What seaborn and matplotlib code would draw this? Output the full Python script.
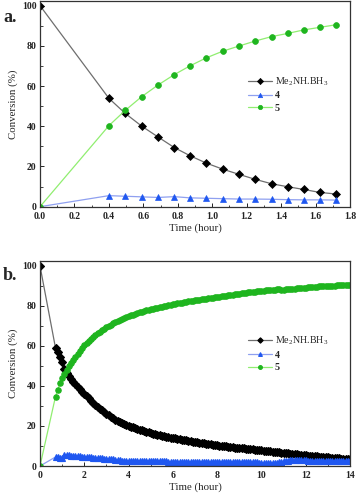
import numpy as np
import matplotlib
matplotlib.use("Agg")
import matplotlib.pyplot as plt
import seaborn as sns
from matplotlib.ticker import MultipleLocator, FormatStrFormatter

sns.set_style("ticks")
plt.rcParams['font.family'] = ['Liberation Serif', 'DejaVu Serif']
plt.rcParams['mathtext.fontset'] = 'custom'
plt.rcParams['mathtext.rm'] = 'Liberation Serif'

# ---------------- Panel a data ----------------
time_a = [0.0, 0.40, 0.495, 0.59, 0.685, 0.78, 0.87, 0.965, 1.06, 1.155,
          1.25, 1.345, 1.44, 1.53, 1.625, 1.72]
amine_a = [100.0, 53.9, 46.4, 40.1, 34.7, 29.4, 25.4, 21.7, 18.7, 16.1,
           13.6, 11.4, 9.9, 8.6, 7.1, 6.3]
prod4_a = [0.0, 5.5, 5.2, 4.9, 4.6, 5.0, 4.4, 4.2, 4.0, 3.8,
           3.8, 3.7, 3.5, 3.4, 3.4, 3.3]
prod5_a = [0.0, 40.3, 47.9, 54.7, 60.5, 65.7, 70.0, 74.0, 77.3, 79.9,
           82.4, 84.6, 86.2, 87.9, 89.2, 90.5]

# ---------------- Panel b data ----------------
time_b = [0.0] + [round(v, 1) for v in np.arange(0.7, 14.05, 0.1)]
amine_b = [100.0,
    59.0, 57.0, 54.5, 52.0, 48.5, 46.5, 45.0, 43.5, 42.0, 40.8,
    39.6, 38.4, 37.2, 36.0, 34.9, 33.8, 32.7, 31.6, 30.5, 29.6,
    28.7, 27.8, 26.9, 26.0, 25.3, 24.6, 23.9, 23.2, 22.5, 22.0,
    21.5, 21.0, 20.5, 20.0, 19.6, 19.3, 18.9, 18.6, 18.2, 17.9,
    17.5, 17.2, 16.8, 16.5, 16.2, 16.0, 15.7, 15.5, 15.2, 15.0,
    14.7, 14.5, 14.2, 14.0, 13.8, 13.6, 13.4, 13.2, 13.0, 12.8,
    12.6, 12.4, 12.2, 12.0, 11.8, 11.7, 11.5, 11.3, 11.2, 11.0,
    10.8, 10.7, 10.5, 10.3, 10.2, 10.0, 9.9, 9.8, 9.6, 9.5,
    9.4, 9.2, 9.1, 9.0, 8.9, 8.8, 8.6, 8.5, 8.4, 8.3,
    8.2, 8.0, 7.9, 7.8, 7.7, 7.5, 7.4, 7.3, 7.2, 7.0,
    6.9, 6.8, 6.6, 6.5, 6.4, 6.3, 6.2, 6.0, 5.9, 5.8,
    5.7, 5.5, 5.4, 5.3, 5.2, 5.1, 5.0, 4.9, 4.8, 4.7,
    4.6, 4.5, 4.4, 4.3, 4.2, 4.1, 4.0, 3.9, 3.8, 3.7,
    3.7, 3.6, 3.5, 3.5]
prod5_b = [0.0,
    34.7, 38.0, 41.3, 44.0, 46.0, 48.0, 49.8, 51.5, 53.0, 54.5,
    56.0, 57.5, 59.0, 60.3, 61.4, 62.5, 63.5, 64.5, 65.5, 66.3,
    67.1, 67.9, 68.7, 69.5, 70.1, 70.7, 71.3, 71.9, 72.5, 73.0,
    73.5, 74.0, 74.5, 75.0, 75.4, 75.7, 76.1, 76.4, 76.8, 77.1,
    77.5, 77.8, 78.1, 78.4, 78.7, 79.0, 79.2, 79.5, 79.7, 80.0,
    80.2, 80.4, 80.7, 80.9, 81.1, 81.3, 81.5, 81.7, 81.9, 82.1,
    82.3, 82.5, 82.6, 82.8, 83.0, 83.2, 83.3, 83.5, 83.7, 83.8,
    84.0, 84.2, 84.3, 84.5, 84.7, 84.8, 85.0, 85.2, 85.3, 85.5,
    85.7, 85.8, 86.0, 86.2, 86.3, 86.5, 86.6, 86.8, 86.9, 87.0,
    87.2, 87.3, 87.4, 87.6, 87.7, 87.8, 87.9, 88.0, 88.1, 88.2,
    88.3, 88.3, 88.2, 88.2, 88.3, 88.4, 88.5, 88.6, 88.7, 88.8,
    88.9, 89.0, 89.1, 89.2, 89.3, 89.4, 89.5, 89.6, 89.7, 89.8,
    89.8, 89.9, 90.0, 90.0, 90.1, 90.2, 90.2, 90.3, 90.4, 90.4,
    90.5, 90.5, 90.6, 90.6]
prod4_b = [0.0,
    4.5, 4.3, 4.1, 3.9, 5.3, 5.4, 5.3, 5.2, 5.1, 5.0,
    4.9, 4.8, 4.7, 4.6, 4.5, 4.4, 4.3, 4.2, 4.1, 4.0,
    3.9, 3.8, 3.7, 3.6, 3.5, 3.4, 3.3, 3.2, 2.9, 2.8,
    2.7, 2.7, 2.6, 2.6, 2.6, 2.5, 2.5, 2.5, 2.5, 2.4,
    2.4, 2.4, 2.4, 2.4, 2.3, 2.3, 2.3, 2.3, 2.3, 2.3,
    2.3, 2.2, 2.2, 2.2, 2.2, 2.2, 2.2, 2.2, 2.1, 2.1,
    2.1, 2.1, 2.1, 2.1, 2.1, 2.1, 2.0, 2.0, 2.0, 2.0,
    2.0, 2.0, 2.0, 2.0, 2.0, 1.9, 1.9, 1.9, 1.9, 1.9,
    1.9, 1.9, 1.9, 1.9, 1.8, 1.8, 1.8, 1.8, 1.8, 1.8,
    1.8, 1.8, 1.7, 1.7, 1.6, 1.5, 1.5, 1.4, 1.4, 1.5,
    1.6, 1.8, 2.1, 2.4, 2.6, 2.7, 2.8, 2.8, 2.8, 2.8,
    2.8, 2.8, 2.8, 2.8, 2.7, 2.7, 2.7, 2.7, 2.6, 2.6,
    2.6, 2.6, 2.5, 2.5, 2.5, 2.5, 2.4, 2.4, 2.4, 2.4,
    2.3, 2.3, 2.3, 2.3]

series_labels = [r"Me$_2$NH.BH$_3$", "4", "5"]

W, H = 357, 497
fig = plt.figure(figsize=(W / 100, H / 100), dpi=100)

def frac(l, t, r, b):
    return [l / W, 1 - b / H, (r - l) / W, (b - t) / H]

ax_a = fig.add_axes(frac(40, 1, 350, 206.7))
ax_b = fig.add_axes(frac(40, 260.7, 350, 466))

styles = [
    dict(marker='D', color='#6e6e6e', markerfacecolor='black', markeredgecolor='black'),
    dict(marker='^', color='#8fa0f0', markerfacecolor='#1f57f0', markeredgecolor='#1f57f0'),
    dict(marker='o', color='#90ee70', markerfacecolor='#1fb51f', markeredgecolor='#1fb51f'),
]

def draw(ax, t, ys, ms, mew):
    for y, lab, st in zip(ys, series_labels, styles):
        sns.lineplot(x=t, y=y, ax=ax, label=lab, linewidth=0.9,
                     markersize=ms, markeredgewidth=mew, estimator=None,
                     sort=False, **st)

draw(ax_a, time_a, [amine_a, prod4_a, prod5_a], 4.2, 0.5)
draw(ax_b, time_b, [amine_b, prod4_b, prod5_b], 3.9, 0.8)

for ax, xmax, xmaj, xmin, ytop, mscale in [(ax_a, 1.8, 0.2, 0.1, 102.3, 0.75),
                                            (ax_b, 14, 2, 1, 102.6, 0.7)]:
    ax.set_xlim(0, xmax)
    ax.set_ylim(0, ytop)
    ax.xaxis.set_major_locator(MultipleLocator(xmaj))
    ax.xaxis.set_minor_locator(MultipleLocator(xmin))
    ax.yaxis.set_major_locator(MultipleLocator(20))
    ax.yaxis.set_minor_locator(MultipleLocator(10))
    if ax is ax_a:
        ax.xaxis.set_major_formatter(FormatStrFormatter('%.1f'))
    ax.tick_params(which='both', direction='in', top=False, right=False,
                   labelsize=7, colors='#222222')
    ax.tick_params(axis='x', pad=3.5)
    ax.tick_params(axis='y', pad=2.5)
    ax.tick_params(which='major', length=3, width=0.7)
    ax.tick_params(which='minor', length=1.8, width=0.6)
    for lab in ax.get_xticklabels() + ax.get_yticklabels():
        lab.set_fontweight('bold')
    for s in ax.spines.values():
        s.set_color('#333333')
        s.set_linewidth(0.9)
    ax.set_xlabel("Time (hour)", fontsize=7.8, labelpad=2)
    ax.set_ylabel("Conversion (%)", fontsize=7.8, labelpad=3)
    leg = ax.legend(loc='center left', bbox_to_anchor=(0.67, 0.548),
                    frameon=False, fontsize=7.2, handlelength=2.4,
                    handletextpad=0.3, labelspacing=0.35, markerscale=mscale,
                    borderpad=0, borderaxespad=0)
    for txt in leg.get_texts()[1:]:
        txt.set_fontweight('bold')

fig.text(3 / W, 1 - 18 / H, "a.", fontsize=13, fontweight='bold', va='center', ha='left')
fig.text(3 / W, 1 - 276 / H, "b.", fontsize=13, fontweight='bold', va='center', ha='left')

fig.savefig("out.png", dpi=100, facecolor='white')
